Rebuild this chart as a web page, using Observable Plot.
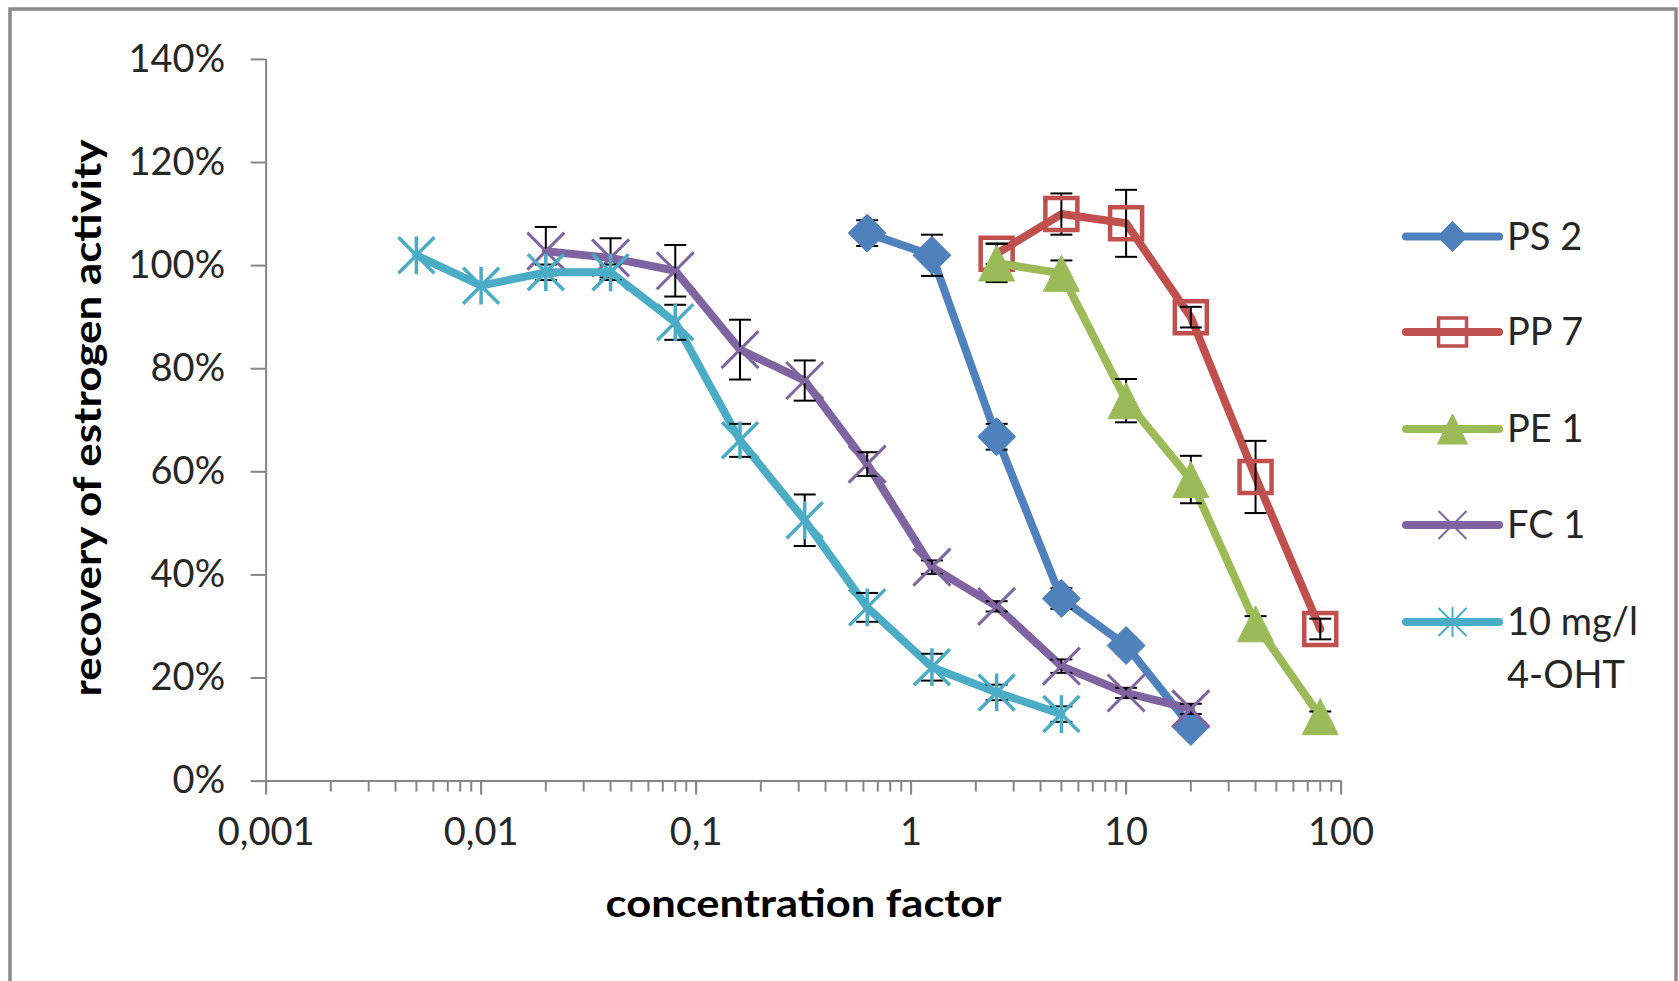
<!DOCTYPE html>
<html>
<head>
<meta charset="utf-8">
<script src="https://cdn.jsdelivr.net/npm/d3@7"></script>
<script src="https://cdn.jsdelivr.net/npm/@observablehq/plot@0.6"></script>
<style>
  html, body { margin: 0; padding: 0; background: #fff; }
  #chart { position: relative; width: 1679px; height: 981px; overflow: hidden; }
</style>
</head>
<body>
<div id="chart"></div>
<script>
// ---------- data ----------
const seriesNames = ["PS 2", "PP 7", "PE 1", "FC 1", "10 mg/l 4-OHT"];
const seriesColors = ["#4F81BD", "#C0504D", "#9BBB59", "#8064A2", "#4BACC6"];

const ps2X = [0.625, 1.25, 2.5, 5, 10, 20];
const ps2Y = [106.3, 102.0, 66.8, 35.4, 26.3, 10.6];
const ps2E = [2.5, 4, 2.5, 2, 1.5, 1];

const pp7X = [2.5, 5, 10, 20, 40, 80];
const pp7Y = [102.3, 110.0, 108.2, 90.0, 59.0, 29.5];
const pp7E = [2, 4, 6.5, 2, 7, 2];

const pe1X = [2.5, 5, 10, 20, 40, 80];
const pe1Y = [100.5, 98.5, 73.8, 58.5, 30.5, 12.5];
const pe1E = [3.7, 2.5, 4.2, 4.6, 1.5, 1];

const fc1X = [0.02, 0.04, 0.08, 0.16, 0.32, 0.625, 1.25, 2.5, 5, 10, 20];
const fc1Y = [102.8, 101.5, 99.0, 83.7, 77.7, 61.5, 41.5, 33.9, 22.3, 17.1, 14.0];
const fc1E = [4.7, 3.8, 5, 5.8, 3.9, 2.3, 1.3, 1, 1.3, 1, 1];

const ohtX = [0.005, 0.01, 0.02, 0.04, 0.08, 0.16, 0.32, 0.625, 1.25, 2.5, 5];
const ohtY = [102.0, 96.1, 98.7, 98.7, 89.0, 66.1, 50.6, 33.7, 22.1, 17.2, 13.0];
const ohtE = [0, 0, 1.5, 1.5, 3.4, 3.2, 5, 2.8, 2.6, 1.5, 1.5];

const yTicks = [0, 20, 40, 60, 80, 100, 120, 140];
const xTicks = [0.001, 0.01, 0.1, 1, 10, 100];
const xTickLabels = ["0,001", "0,01", "0,1", "1", "10", "100"];
const xTitle = "concentration factor";
const yTitle = "recovery of estrogen activity";
const legendLabels = [["PS 2"], ["PP 7"], ["PE 1"], ["FC 1"], ["10 mg/l", "4-OHT"]];

// ---------- symbols ----------
function sym(fn) { return { draw(ctx, size) { fn(ctx, Math.sqrt(size / Math.PI)); } }; }
const diamondSym = sym((c, r) => { c.moveTo(0, -r); c.lineTo(r, 0); c.lineTo(0, r); c.lineTo(-r, 0); c.closePath(); });
const squareSym = sym((c, r) => { c.moveTo(-r, -r); c.lineTo(r, -r); c.lineTo(r, r); c.lineTo(-r, r); c.closePath(); });
const triangleSym = sym((c, r) => { c.moveTo(0, -r); c.lineTo(r, r); c.lineTo(-r, r); c.closePath(); });
const timesSym = sym((c, r) => { c.moveTo(-r, -r); c.lineTo(r, r); c.moveTo(-r, r); c.lineTo(r, -r); });
const starSym = sym((c, r) => { c.moveTo(-r, -r); c.lineTo(r, r); c.moveTo(-r, r); c.lineTo(r, -r); c.moveTo(0, -r * 1.05); c.lineTo(0, r * 1.05); });
const capSym = sym((c, r) => { c.moveTo(-r, 0); c.lineTo(r, 0); });

const markerStyles = [
  { symbol: diamondSym, r: 19, fill: seriesColors[0], stroke: seriesColors[0], strokeWidth: 1, lr: 15, lw: 1 },
  { symbol: squareSym, r: 16, fill: "none", stroke: seriesColors[1], strokeWidth: 4.5, lr: 14, lw: 3.5 },
  { symbol: triangleSym, r: 18, fill: seriesColors[2], stroke: seriesColors[2], strokeWidth: 1, lr: 15, lw: 1 },
  { symbol: timesSym, r: 18.5, fill: "none", stroke: seriesColors[3], strokeWidth: 3, lr: 14, lw: 2 },
  { symbol: starSym, r: 18, fill: "none", stroke: seriesColors[4], strokeWidth: 3.5, lr: 14, lw: 2 }
];

const allX = [ps2X, pp7X, pe1X, fc1X, ohtX];
const allY = [ps2Y, pp7Y, pe1Y, fc1Y, ohtY];
const allE = [ps2E, pp7E, pe1E, fc1E, ohtE];

const series = seriesNames.map((name, s) =>
  allX[s].map((x, i) => ({ series: name, x, y: allY[s][i], e: allE[s][i] }))
);

// ---------- marks ----------
const axisGray = "#868686";
const fontFamily = "Lato, 'Open Sans', sans-serif";
const labelMap = new Map(xTicks.map((t, i) => [t, xTickLabels[i]]));
const marks = [
  Plot.ruleX([0.001], { stroke: axisGray, strokeWidth: 2 }),
  Plot.ruleY([0], { stroke: axisGray, strokeWidth: 2 }),
  Plot.axisY({ ticks: yTicks, tickFormat: d => d + "%", tickSize: 15, tickPadding: 26,
    fontSize: 38, stroke: axisGray, strokeWidth: 2, fill: "#262626", label: null }),
  Plot.axisX({ ticks: 50, tickFormat: () => "", tickSize: 11, stroke: axisGray, strokeWidth: 2, label: null }),
  Plot.axisX({ ticks: xTicks, tickFormat: d => labelMap.get(d), tickSize: 14, tickPadding: 23,
    fontSize: 38, stroke: axisGray, strokeWidth: 2, fill: "#262626", label: null }),
  Plot.text([xTitle], { frameAnchor: "bottom", dy: 136, lineAnchor: "bottom", fontSize: 39,
    fontWeight: "bold", fill: "#000", className: "xtitle" })
];

series.forEach((data, s) => {
  const m = markerStyles[s];
  const eb = data.filter(d => d.e > 0);
  marks.push(
    Plot.line(data, { x: "x", y: "y", stroke: seriesColors[s], strokeWidth: 8, strokeLinejoin: "round", strokeLinecap: "round" }),
    Plot.ruleX(eb, { x: "x", y1: d => d.y - d.e, y2: d => d.y + d.e, stroke: "#000", strokeWidth: 2 }),
    Plot.dot(eb, { x: "x", y: d => d.y - d.e, symbol: capSym, r: 11, stroke: "#000", strokeWidth: 2, fill: "none" }),
    Plot.dot(eb, { x: "x", y: d => d.y + d.e, symbol: capSym, r: 11, stroke: "#000", strokeWidth: 2, fill: "none" }),
    Plot.dot(data, { x: "x", y: "y", symbol: m.symbol, r: m.r, fill: m.fill, stroke: m.stroke, strokeWidth: m.strokeWidth })
  );
});

const plot = Plot.plot({
  width: 1679,
  height: 981,
  marginLeft: 265.6,
  marginRight: 338.4,
  marginTop: 58.9,
  marginBottom: 200.4,
  x: { type: "log", domain: [0.001, 100] },
  y: { domain: [0, 140] },
  style: { fontFamily, background: "#fff", color: "#262626" },
  marks
});

// ---------- frame, titles, legend ----------
const svg = d3.select(plot);
svg.append("rect").attr("x", 10).attr("y", 9).attr("width", 1666).attr("height", 1000)
  .attr("fill", "none").attr("stroke", "#8a8a8a").attr("stroke-width", 3.5);

svg.selectAll(".xtitle text").attr("textLength", 396).attr("lengthAdjust", "spacingAndGlyphs");

svg.append("text")
  .attr("transform", "translate(101,418) rotate(-90)")
  .attr("text-anchor", "middle")
  .attr("font-family", fontFamily).attr("font-size", 39).attr("font-weight", "bold").attr("fill", "#000")
  .attr("textLength", 557).attr("lengthAdjust", "spacingAndGlyphs")
  .text(yTitle);

const legendRows = [236.5, 332, 429, 525, 622];
const lg = svg.append("g").attr("font-family", fontFamily).attr("font-size", 38)
  .attr("fill", "#262626").attr("text-anchor", "start");
legendRows.forEach((y, s) => {
  const m = markerStyles[s];
  lg.append("line").attr("x1", 1406).attr("x2", 1499).attr("y1", y).attr("y2", y)
    .attr("stroke", seriesColors[s]).attr("stroke-width", 8).attr("stroke-linecap", "round");
  const p = d3.path();
  m.symbol.draw(p, m.lr * m.lr * Math.PI);
  lg.append("path").attr("d", p.toString()).attr("transform", `translate(1452.5,${y})`)
    .attr("fill", m.fill).attr("stroke", m.stroke).attr("stroke-width", m.lw);
  const t = lg.append("text").attr("x", 1507).attr("y", y);
  legendLabels[s].forEach((line, k) => {
    t.append("tspan").attr("x", 1507).attr("dy", k === 0 ? "0.35em" : "53px").text(line);
  });
});

document.getElementById("chart").appendChild(plot);
</script>
</body>
</html>
